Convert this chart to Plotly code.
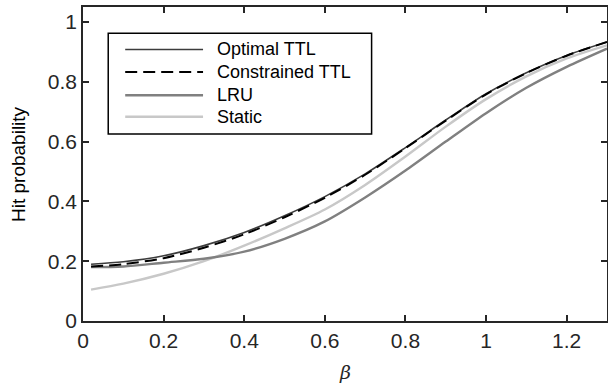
import plotly.graph_objects as go

beta = [0.02, 0.1, 0.2, 0.3, 0.4, 0.5, 0.6, 0.7, 0.8, 0.9, 1.0, 1.1, 1.2, 1.3]
optimal_ttl = [0.190, 0.198, 0.218, 0.252, 0.296, 0.352, 0.416, 0.492, 0.580, 0.672, 0.760, 0.830, 0.888, 0.933]
constrained_ttl = [0.182, 0.190, 0.210, 0.245, 0.290, 0.347, 0.412, 0.489, 0.578, 0.670, 0.758, 0.829, 0.887, 0.933]
lru = [0.180, 0.182, 0.195, 0.208, 0.232, 0.275, 0.333, 0.413, 0.503, 0.600, 0.695, 0.780, 0.850, 0.911]
static = [0.105, 0.125, 0.158, 0.200, 0.252, 0.310, 0.373, 0.455, 0.550, 0.650, 0.742, 0.818, 0.878, 0.922]

names = ["Optimal TTL", "Constrained TTL", "LRU", "Static"]
series = [optimal_ttl, constrained_ttl, lru, static]
styles = [
    dict(color="#3c3c3c", width=1.6, dash="solid"),
    dict(color="#000000", width=2.0, dash="12px,6px"),
    dict(color="#808080", width=2.4, dash="solid"),
    dict(color="#c8c8c8", width=2.4, dash="solid"),
]
x_ticks = [0, 0.2, 0.4, 0.6, 0.8, 1, 1.2]
y_ticks = [0, 0.2, 0.4, 0.6, 0.8, 1]

FONT = "Liberation Sans, Arial, Helvetica, sans-serif"
AX = "#262626"

fig = go.Figure()
for idx in [3, 2, 0, 1]:
    fig.add_trace(go.Scatter(x=beta, y=series[idx], mode="lines", name=names[idx],
                             line=dict(shape="spline", smoothing=0.8, **styles[idx]),
                             showlegend=False, hoverinfo="skip"))

# manual MATLAB-like legend (box, sample lines, labels)
lx0, lx1, ly0, ly1 = 0.0626, 0.716, 0.625, 0.962
fig.add_shape(type="rect", xref="x", yref="y", x0=lx0, x1=lx1, y0=ly0, y1=ly1,
              line=dict(color="#000000", width=1.5), fillcolor="white", layer="above")
rows = [0.908, 0.833, 0.755, 0.683]
for name, st, ry in zip(names, styles, rows):
    fig.add_shape(type="line", xref="x", yref="y", x0=0.1047, x1=0.2978, y0=ry, y1=ry,
                  line=dict(color=st["color"], width=st["width"], dash=st["dash"]), layer="above")
    fig.add_annotation(x=0.3275, y=ry, xref="x", yref="y", text=name, showarrow=False,
                       xanchor="left", yanchor="middle",
                       font=dict(family=FONT, size=18, color="#000000"))

# axis titles
fig.add_annotation(x=0.5, y=0, xref="x domain", yref="paper", yshift=-(372 - 321),
                   text="<i>β</i>", showarrow=False, xanchor="center", yanchor="middle",
                   font=dict(family="DejaVu Serif, serif", size=19, color=AX))
fig.add_annotation(x=0, y=0.5, xref="paper", yref="y domain", xshift=18 - 83,
                   text="Hit probability", showarrow=False, textangle=-90,
                   xanchor="center", yanchor="middle",
                   font=dict(family=FONT, size=19, color="#000000"))

fig.update_layout(
    width=608, height=383,
    margin=dict(l=83, r=1, t=7, b=62),
    paper_bgcolor="white", plot_bgcolor="white",
    font=dict(family=FONT, size=19, color=AX),
    showlegend=False,
)

fig.update_xaxes(range=[0, 1.3], tickvals=x_ticks, ticktext=[f"{v:g}" for v in x_ticks],
                 showgrid=False, zeroline=False, showline=True, linecolor=AX, linewidth=1.5,
                 mirror="ticks", ticks="inside", ticklen=6, tickcolor=AX, tickwidth=1.5,
                 tickfont=dict(size=21, color=AX), automargin=False)
fig.update_yaxes(range=[0, 1.05], tickvals=y_ticks, ticktext=[f"{v:g}" for v in y_ticks],
                 showgrid=False, zeroline=False, showline=True, linecolor=AX, linewidth=1.5,
                 mirror="ticks", ticks="inside", ticklen=6, tickcolor=AX, tickwidth=1.5,
                 tickfont=dict(size=21, color=AX), automargin=False)

fig.write_html("out.html", config={"displayModeBar": False},
               post_script="document.body.style.margin='0';document.body.style.padding='0';")
